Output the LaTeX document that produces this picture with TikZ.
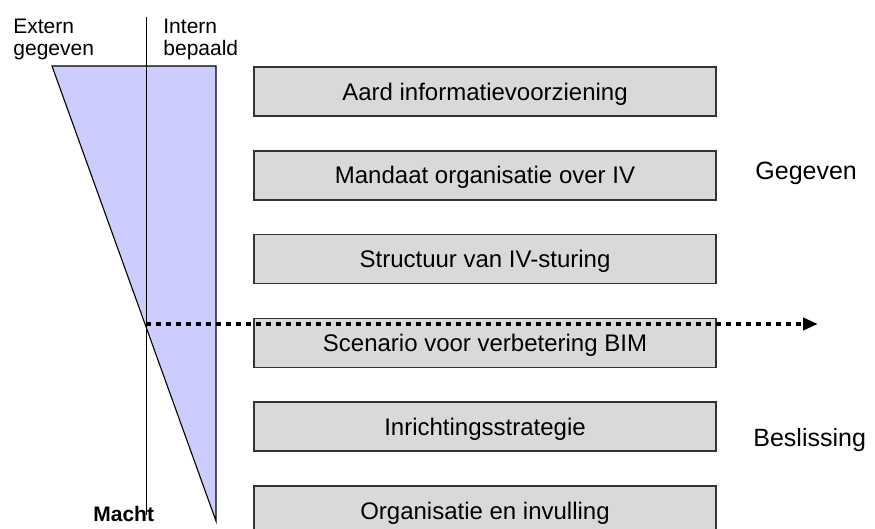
\documentclass[tikz,border=0pt]{standalone}
\usepackage{fontspec}
\setmainfont{Liberation Sans}
\usetikzlibrary{arrows.meta}
\definecolor{boxgray}{HTML}{D9D9D9}
\definecolor{wedgeblue}{HTML}{CCCCFF}

\begin{document}
\begin{tikzpicture}[x=0.5pt,y=-0.5pt,
  ivbox/.style={rectangle,draw=black!80,line width=0.75pt,fill=boxgray,minimum width=231pt,minimum height=24.5pt,inner sep=0pt,text depth=0pt,font=\fontsize{12}{14}\selectfont},
  sidelabel/.style={anchor=base west,inner sep=0pt,font=\fontsize{12.5}{15}\selectfont},
  toplabel/.style={align=left,anchor=north west,inner sep=0pt,font=\fontsize{10.5}{11}\selectfont}]
  \useasboundingbox (0,0) rectangle (875,529);
  \clip (0,0) rectangle (875,529);

  % wedge and divider
  \filldraw[fill=wedgeblue,draw=black,line width=0.55pt] (52,66) -- (216,66) -- (216,521) -- cycle;
  \draw[line width=0.5pt] (146,17) -- (146,515);

  \node[toplabel] (extern) at (13,19) {Extern\\gegeven};
  \node[toplabel] (intern) at (163,19) {Intern\\bepaald};
  \node[anchor=base west,inner sep=0pt,font=\fontsize{10.5}{11}\selectfont\bfseries] (macht) at (93,522) {Macht};

  % the six boxes
  \foreach \txt [count=\i] in {Aard informatievoorziening,Mandaat organisatie over IV,Structuur van IV-sturing,Scenario voor verbetering BIM,Inrichtingsstrategie,Organisatie en invulling}{
    \pgfmathsetmacro{\yc}{91.5+(\i-1)*83.8}
    \node[ivbox] (box\i) at (485,\yc) {\txt};
  }

  \node[sidelabel] (gegeven) at (755,180) {Gegeven};
  \node[sidelabel] (beslissing) at (753,447) {Beslissing};

  % dotted arrow
  \coordinate (cross) at (146,324);
  \coordinate (arrowend) at (818,324);
  \draw[line width=2pt,dash pattern=on 2.25pt off 2.75pt,-{Triangle[length=7.5pt,width=6pt]}] (cross) -- (arrowend);
\end{tikzpicture}
\end{document}
